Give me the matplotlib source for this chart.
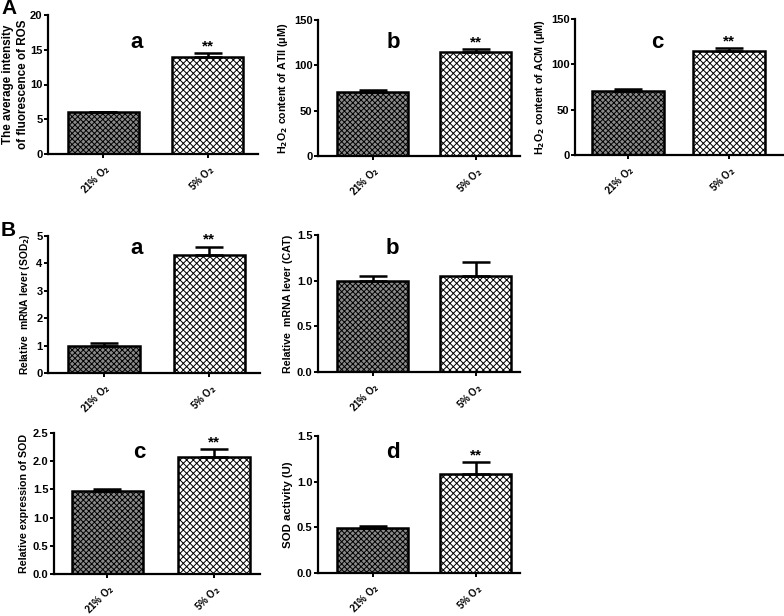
import numpy as np
import matplotlib
matplotlib.use("Agg")
import matplotlib.pyplot as plt

plt.rcParams['font.family'] = ['Liberation Sans', 'DejaVu Sans']
plt.rcParams['font.weight'] = 'bold'
plt.rcParams['hatch.linewidth'] = 0.7

# data
groups = ['21% O$_2$', '5% O$_2$']
ros = [6.0, 14.0]
ros_err = [0.1, 0.5]
h2o2_atii = [71, 115]
h2o2_atii_err = [2, 3]
h2o2_acm = [71, 115]
h2o2_acm_err = [2, 3]
sod2_mrna = [1.0, 4.3]
sod2_mrna_err = [0.1, 0.3]
cat_mrna = [1.0, 1.05]
cat_mrna_err = [0.05, 0.15]
sod_expr = [1.48, 2.08]
sod_expr_err = [0.03, 0.13]
sod_act = [0.49, 1.08]
sod_act_err = [0.02, 0.13]

W, H = 784, 616
fig = plt.figure(figsize=(W / 100, H / 100), dpi=100)


def px_axes(x0, x1, ytop, ybot):
    return fig.add_axes([x0 / W, 1 - ybot / H, (x1 - x0) / W, (ybot - ytop) / H])


def panel(ax, vals, errs, ylim, yticks, ylabel, letter, lpos, xlim, width,
          stars=True, lsize=7.7, fmt=None, lpad=3):
    x = np.arange(2)
    ax.bar(x[0], vals[0], width, color='#8a8a8a', edgecolor='black', linewidth=1.8,
           hatch='xxxxxx', zorder=2)
    ax.bar(x[1], vals[1], width, color='white', edgecolor='black', linewidth=1.8,
           hatch='xxxxx', zorder=2)
    ax.errorbar(x, vals, yerr=[[0, 0], errs], fmt='none', ecolor='black',
                elinewidth=1.8, capsize=10, capthick=1.8, zorder=3)
    if stars:
        ax.text(1, vals[1] + errs[1], '**', ha='center', va='bottom',
                fontsize=11, fontweight='bold')
    ax.set_xlim(*xlim)
    ax.set_ylim(*ylim)
    ax.set_yticks(yticks)
    if fmt:
        ax.yaxis.set_major_formatter(fmt)
    ax.set_xticks(x)
    ax.set_xticklabels(groups, rotation=45, ha='right', rotation_mode='anchor',
                       fontsize=7, fontweight='bold')
    ax.tick_params(axis='y', labelsize=8, width=1.4, length=3, pad=1)
    ax.tick_params(axis='x', width=1.4, length=3, pad=3)
    for lab in ax.get_yticklabels():
        lab.set_fontweight('bold')
    for s in ['top', 'right']:
        ax.spines[s].set_visible(False)
    for s in ['left', 'bottom']:
        ax.spines[s].set_linewidth(1.6)
    ax.set_ylabel(ylabel, fontsize=lsize, fontweight='bold', labelpad=lpad,
                  linespacing=1.25)
    fig.text(lpos[0] / W, 1 - lpos[1] / H, letter, fontsize=16, fontweight='bold',
             ha='center', va='center')


ax = px_axes(48, 258, 15, 154)
panel(ax, ros, ros_err, (0, 20), [0, 5, 10, 15, 20],
      'The average intensity\nof fluorescence of ROS', 'a', (137, 42),
      (-0.53, 1.48), 0.68, lsize=8.4, lpad=1)

ax = px_axes(318, 520, 20, 156)
panel(ax, h2o2_atii, h2o2_atii_err, (0, 150), [0, 50, 100, 150],
      'H$_2$O$_2$ content of ATII (μM)', 'b', (393, 42), (-0.53, 1.43), 0.69)

ax = px_axes(575, 784, 19, 155)
panel(ax, h2o2_acm, h2o2_acm_err, (0, 150), [0, 50, 100, 150],
      'H$_2$O$_2$ content of ACM (μM)', 'c', (657, 43), (-0.52, 1.54), 0.71)

ax = px_axes(48, 260, 236, 373)
panel(ax, sod2_mrna, sod2_mrna_err, (0, 5), [0, 1, 2, 3, 4, 5],
      'Relative  mRNA lever (SOD$_2$)', 'a', (137, 248), (-0.53, 1.48), 0.68,
      lsize=7.4)

ax = px_axes(318, 520, 235, 372)
panel(ax, cat_mrna, cat_mrna_err, (0, 1.5), [0.0, 0.5, 1.0, 1.5],
      'Relative  mRNA lever (CAT)', 'b', (392, 248), (-0.53, 1.43), 0.69,
      stars=False, fmt='{x:.1f}')

ax = px_axes(54, 260, 433, 574)
panel(ax, sod_expr, sod_expr_err, (0, 2.5), [0.0, 0.5, 1.0, 1.5, 2.0, 2.5],
      'Relative expression of SOD', 'c', (139, 453), (-0.5, 1.43), 0.67,
      fmt='{x:.1f}')

ax = px_axes(318, 520, 436, 573)
panel(ax, sod_act, sod_act_err, (0, 1.5), [0.0, 0.5, 1.0, 1.5],
      'SOD activity (U)', 'd', (393, 453), (-0.53, 1.43), 0.69, lsize=8.2,
      fmt='{x:.1f}')

fig.text(1 / W, 1 - 9 / H, 'A', fontsize=15, fontweight='bold', ha='left', va='center')
fig.text(1 / W, 1 - 230 / H, 'B', fontsize=15, fontweight='bold', ha='left', va='center')

fig.savefig('out.png', dpi=100)
